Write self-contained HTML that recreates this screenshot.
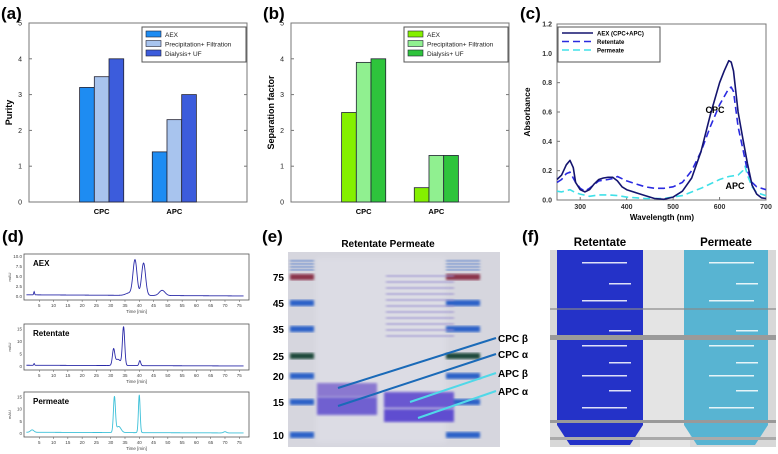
<!DOCTYPE html>
<html><head><meta charset="utf-8"><style>
body{margin:0;background:#fff}
svg{display:block;font-family:"Liberation Sans",sans-serif}
</style></head><body>
<svg id="fig" width="778" height="454" viewBox="0 0 778 454" xmlns="http://www.w3.org/2000/svg">
<defs>
<filter id="blur1"><feGaussianBlur stdDeviation="1.2"/></filter>
<filter id="blur2"><feGaussianBlur stdDeviation="2.5"/></filter>
</defs>
<g id="pa"></g>
<g id="pb"></g>
<g id="pc"></g>
<g id="pd"></g>
<g id="pe"></g>
<g id="pf"></g>
</svg>
<script>
// ---------- data ----------
const barCategories = ["CPC","APC"];
const barSeriesNames = ["AEX","Precipitation+ Filtration","Dialysis+ UF"];
const purityAEX = [3.2,1.4];
const purityPrecip = [3.5,2.3];
const purityDialysis = [4.0,3.0];
const sepAEX = [2.5,0.4];
const sepPrecip = [3.9,1.3];
const sepDialysis = [4.0,1.3];
const barTicks = [0,1,2,3,4,5];

const wlAEX = [250,260,270,278,285,290,300,310,320,330,340,350,360,370,380,390,400,420,440,460,480,500,520,540,560,580,600,610,620,625,630,640,650,660,670,680,690,700];
const absAEX = [0.14,0.17,0.24,0.27,0.22,0.12,0.07,0.055,0.07,0.11,0.14,0.15,0.155,0.155,0.13,0.09,0.07,0.05,0.03,0.01,0.005,0.02,0.06,0.15,0.33,0.58,0.80,0.88,0.95,0.94,0.88,0.60,0.42,0.25,0.10,0.04,0.015,0.01];
const wlRet = [250,260,270,278,290,300,310,320,340,360,375,380,400,420,440,460,480,500,520,540,560,580,600,620,625,630,640,650,660,670,680,700];
const absRet = [0.12,0.14,0.18,0.19,0.12,0.08,0.06,0.08,0.13,0.14,0.15,0.16,0.13,0.11,0.09,0.08,0.08,0.09,0.12,0.20,0.33,0.50,0.65,0.76,0.77,0.74,0.50,0.35,0.20,0.12,0.09,0.07];
const wlPer = [250,260,278,290,300,320,340,360,380,400,440,480,520,560,600,620,640,650,655,660,670,680,700];
const absPer = [0.06,0.055,0.07,0.05,0.04,0.025,0.035,0.035,0.03,0.02,0.01,0.01,0.03,0.08,0.14,0.16,0.17,0.20,0.23,0.17,0.09,0.05,0.03];
const absXTicks = [300,400,500,600,700];
const absYTicks = [0,0.2,0.4,0.6,0.8,1.0,1.2];

// chromatogram peaks: [time, height, width]
const peaksAEX = [[3.2,0.8,0.15],[36.5,0.6,1.2],[38.5,8.8,0.7],[41.5,8.1,0.7],[48,1.3,1.0]];
const peaksRet = [[3.2,0.7,0.15],[31,6.0,0.4],[32.5,2.5,1.0],[34.5,15.3,0.4],[40.2,2.0,0.3]];
const peaksPer = [[2.5,1.0,0.6],[31.3,14.5,0.35],[32.8,2.5,0.8],[40,15.5,0.3],[70,0.5,0.5]];
const timeTicks = [5,10,15,20,25,30,35,40,45,50,55,60,65,70,75];
const aexYTicks = ["0.0","2.5","5.0","7.5","10.0"];
const retYTicks = ["0","5","10","15"];

const gelMarkers = ["75","45","35","25","20","15","10"];
const gelMarkerY = [277,303,329,356,376,402,435];

// ---------- helpers ----------
const NS="http://www.w3.org/2000/svg";
function el(parent,tag,attrs,text){const e=document.createElementNS(NS,tag);for(const k in attrs)e.setAttribute(k,attrs[k]);if(text!==undefined)e.textContent=text;parent.appendChild(e);return e;}

// ---------- bar charts ----------
function barChart(gid,label,x0,x1,yTitle,series,colors){
  const g=document.getElementById(gid);
  const y0=202,yT=23;
  const ys=v=>y0-(v/5)*(y0-yT);
  const t=el(g,"text",{x:x0-28,y:19,"font-size":"17","font-weight":"bold"},label);
  
  
  const box=el(g,"rect",{x:x0,y:yT,width:x1-x0,height:y0-yT,fill:"none",stroke:"#777","stroke-width":"1"});
  
  
  barTicks.forEach(v=>{
    const tl=el(g,"text",{x:x0-7,y:ys(v)+2.5,"font-size":"7","text-anchor":"end","fill":"#222"},String(v));
    
    
    el(g,"line",{x1:x0,x2:x0+3,y1:ys(v),y2:ys(v),stroke:"#777"});
    el(g,"line",{x1:x1,x2:x1-3,y1:ys(v),y2:ys(v),stroke:"#777"});
  });
  const w=x1-x0, bw=14.7;
  barCategories.forEach((c,i)=>{
    const cx=x0+w*(i+1)/3;
    series.forEach((s,j)=>{
      const v=s[i];
      const r=el(g,"rect",{x:cx-1.5*bw+j*bw,y:ys(v),width:bw,height:y0-ys(v),fill:colors[j],stroke:"#223","stroke-width":"0.8"});
      
      
    });
    const cl=el(g,"text",{x:cx,y:214,"font-size":"7.5","font-weight":"bold","text-anchor":"middle"},c);
    
    
  });
  const yt=el(g,"text",{x:0,y:0,"font-size":"9","font-weight":"bold","text-anchor":"middle",transform:`translate(${x0-17},${(y0+yT)/2}) rotate(-90)`},yTitle);
  
  
  const lx=x1-105;
  const lg=el(g,"g",{});
  
  
  el(lg,"rect",{x:lx,y:27,width:104,height:35,fill:"#fff",stroke:"#555"});
  barSeriesNames.forEach((n,j)=>{
    el(lg,"rect",{x:lx+4,y:31+j*9.5,width:15,height:6,fill:colors[j],stroke:"#223","stroke-width":"0.6"});
    const lt=el(lg,"text",{x:lx+23,y:37+j*9.5,"font-size":"6.5",fill:"#222"},n);
    
    
  });
}
barChart("pa","(a)",29,247,"Purity",[purityAEX,purityPrecip,purityDialysis],["#1e8cf2","#a8c4ee","#3c5cdc"]);
barChart("pb","(b)",291,509,"Separation factor",[sepAEX,sepPrecip,sepDialysis],["#84f000","#90f090","#2ec43c"]);

// ---------- absorbance ----------
(function(){
  const g=document.getElementById("pc");
  const x0=557,x1=766,y0=200,yT=24;
  const xs=w=>x0+(w-250)/450*(x1-x0);
  const ys=v=>y0-v/1.2*(y0-yT);
  const t=el(g,"text",{x:520,y:19,"font-size":"17","font-weight":"bold"},"(c)");
  
  
  el(g,"rect",{x:x0,y:yT,width:x1-x0,height:y0-yT,fill:"none",stroke:"#777"});
  absYTicks.forEach(v=>{
    const tl=el(g,"text",{x:x0-5,y:ys(v)+2.5,"font-size":"7","font-weight":"bold","text-anchor":"end",fill:"#333"},v.toFixed(1));
    
    
    el(g,"line",{x1:x0,x2:x0+3,y1:ys(v),y2:ys(v),stroke:"#777"});
  });
  absXTicks.forEach(v=>{
    const tl=el(g,"text",{x:xs(v),y:y0+9,"font-size":"7","font-weight":"bold","text-anchor":"middle",fill:"#333"},String(v));
    
    
    el(g,"line",{x1:xs(v),x2:xs(v),y1:y0,y2:y0-3,stroke:"#777"});
  });
  const xt=el(g,"text",{x:662,y:220,"font-size":"8","font-weight":"bold","text-anchor":"middle"},"Wavelength (nm)");
  
  
  const yt=el(g,"text",{x:0,y:0,"font-size":"8.5","font-weight":"bold","text-anchor":"middle",transform:`translate(530,112) rotate(-90)`},"Absorbance");
  
  
  function line(ws,vs,col,dash,name){
    const d=ws.map((w,i)=>(i?"L":"M")+xs(w).toFixed(1)+","+ys(vs[i]).toFixed(1)).join("");
    const p=el(g,"path",{d:d,fill:"none",stroke:col,"stroke-width":"1.6","stroke-dasharray":dash,"stroke-linejoin":"round"});
    
    
  }
  line(wlPer,absPer,"#40e0e8","7,4","permeate-line");
  line(wlRet,absRet,"#2a2ae0","7,4","retentate-line");
  line(wlAEX,absAEX,"#14146e","none","aex-line");
  const lg=el(g,"g",{});
  
  
  el(lg,"rect",{x:558,y:27,width:102,height:35,fill:"#fff",stroke:"#555"});
  [["AEX (CPC+APC)","#14146e","none"],["Retentate","#2a2ae0","7,4"],["Permeate","#40e0e8","7,4"]].forEach((e,j)=>{
    el(lg,"line",{x1:562,x2:593,y1:33+j*8.5,y2:33+j*8.5,stroke:e[1],"stroke-width":"1.6","stroke-dasharray":e[2]});
    const lt=el(lg,"text",{x:597,y:35.5+j*8.5,"font-size":"6","font-weight":"bold"},e[0]);
    
    
  });
  const a1=el(g,"text",{x:715,y:113,"font-size":"9","font-weight":"bold","text-anchor":"middle"},"CPC");
  
  
  const a2=el(g,"text",{x:735,y:189,"font-size":"9","font-weight":"bold","text-anchor":"middle"},"APC");
  
  
})();

// ---------- chromatograms ----------
(function(){
  const g=document.getElementById("pd");
  const t=el(g,"text",{x:2,y:242,"font-size":"17","font-weight":"bold"},"(d)");
  
  
  const x0=24,x1=249;
  const xs=tm=>25+tm*2.857;
  function chrom(top,bot,peaks,ymax,ticks,col,title,name){
    const sg=el(g,"g",{});
    
    
    el(sg,"rect",{x:x0,y:top,width:x1-x0,height:bot-top,fill:"#fff",stroke:"#555","stroke-width":"0.8"});
    const ys=v=>bot-4-v/ymax*(bot-top-6);
    ticks.forEach((s,i)=>{
      const v=parseFloat(s);
      el(sg,"text",{x:x0-2,y:ys(v)+2,"font-size":"4.5","text-anchor":"end",fill:"#444"},s);
    });
    el(sg,"text",{x:0,y:0,"font-size":"4","text-anchor":"middle",fill:"#444",transform:`translate(${x0-13},${(top+bot)/2}) rotate(-90)`},"mAU");
    timeTicks.forEach(tm=>{
      el(sg,"line",{x1:xs(tm),x2:xs(tm),y1:bot,y2:bot+2,stroke:"#555","stroke-width":"0.5"});
      el(sg,"text",{x:xs(tm),y:bot+7,"font-size":"4.5","text-anchor":"middle",fill:"#444"},String(tm));
    });
    el(sg,"text",{x:(x0+x1)/2,y:bot+13,"font-size":"4.5","text-anchor":"middle",fill:"#444"},"Time [min]");
    let d="";
    for(let tm=0.5;tm<=76.5;tm+=0.1){
      let v=0.3*(1-tm/80);
      peaks.forEach(p=>{v+=p[1]*Math.exp(-Math.pow((tm-p[0])/p[2],2)/2);});
      d+=(d?"L":"M")+xs(tm).toFixed(2)+","+ys(v).toFixed(2);
    }
    const p=el(sg,"path",{d:d,fill:"none",stroke:col,"stroke-width":"0.9"});
    
    
    el(sg,"text",{x:x0+9,y:top+12,"font-size":"8","font-weight":"bold"},title);
  }
  chrom(254,300,peaksAEX,10,aexYTicks,"#2a2aa8","AEX","chromatogram-aex");
  chrom(324,370,peaksRet,16,retYTicks,"#2a2aa8","Retentate","chromatogram-retentate");
  chrom(392,437,peaksPer,16,retYTicks,"#3cc0d8","Permeate","chromatogram-permeate");
})();

// ---------- gel ----------
(function(){
  const g=document.getElementById("pe");
  const t=el(g,"text",{x:262,y:242,"font-size":"17","font-weight":"bold"},"(e)");
  
  
  const h=el(g,"text",{x:388,y:247,"font-size":"10","font-weight":"bold","text-anchor":"middle"},"Retentate  Permeate");
  
  
  el(g,"rect",{x:288,y:252,width:212,height:195,fill:"#d6d6de"});
  el(g,"rect",{x:316,y:258,width:130,height:185,fill:"#dcdce4",filter:"url(#blur2)"});
  gelMarkers.forEach((m,i)=>{
    const y=gelMarkerY[i];
    const lt=el(g,"text",{x:284,y:y+4,"font-size":"10","font-weight":"bold","text-anchor":"end"},m);
    
    
    const c=(m==="75")?"#8a3048":(m==="25")?"#1a4a3a":"#2c60c8";
    [[290,314],[446,480]].forEach(r=>el(g,"rect",{x:r[0],y:y-3,width:r[1]-r[0],height:6,fill:c,filter:"url(#blur1)"}));
  });
  [[290,314],[446,480]].forEach(r=>{for(let y=260;y<272;y+=3)el(g,"rect",{x:r[0],y:y,width:r[1]-r[0],height:1.5,fill:"#5078c8",filter:"url(#blur1)"});});
  for(let y=275;y<340;y+=6)el(g,"rect",{x:386,y:y,width:68,height:2,fill:"#9a90d0",filter:"url(#blur1)",opacity:0.8});
  el(g,"rect",{x:317,y:383,width:60,height:14,fill:"#8a78d0",filter:"url(#blur1)"});
  el(g,"rect",{x:317,y:397,width:60,height:18,fill:"#7060d0",filter:"url(#blur1)"});
  el(g,"rect",{x:384,y:392,width:70,height:16,fill:"#6a58d0",filter:"url(#blur1)"});
  el(g,"rect",{x:384,y:409,width:70,height:13,fill:"#5e4ed0",filter:"url(#blur1)"});
  const arrows=[["CPC β",341,338,388,"#1a6ab8"],["CPC α",357,338,406,"#1a6ab8"],["APC β",376,410,402,"#50d8e8"],["APC α",394,418,418,"#50d8e8"]];
  arrows.forEach(a=>{
    el(g,"line",{x1:496,y1:a[1]-3,x2:a[2],y2:a[3],stroke:a[4],"stroke-width":"2"});
    const lt=el(g,"text",{x:498,y:a[1]+1,"font-size":"10","font-weight":"bold"},a[0]);
    
    
  });
})();

// ---------- photo ----------
(function(){
  const g=document.getElementById("pf");
  const t=el(g,"text",{x:522,y:242,"font-size":"17","font-weight":"bold"},"(f)");
  
  
  const l1=el(g,"text",{x:600,y:246,"font-size":"11.5","font-weight":"bold","text-anchor":"middle"},"Retentate");
  
  
  const l2=el(g,"text",{x:726,y:246,"font-size":"11.5","font-weight":"bold","text-anchor":"middle"},"Permeate");
  
  
  el(g,"rect",{x:550,y:250,width:226,height:197,fill:"#d8d8d8"});
  el(g,"rect",{x:640,y:250,width:50,height:197,fill:"#e4e4e4"});
  el(g,"path",{d:"M557,250 H643 V425 L630,445 H570 L557,425 Z",fill:"#2432c8"});
  el(g,"path",{d:"M684,250 H768 V425 L755,445 H697 L684,425 Z",fill:"#58b4d2"});
  [[557,643],[684,768]].forEach(r=>{
    [262,283,300,330,345,362,375,390,407].forEach((y,i)=>{
      el(g,"rect",{x:i%2?r[0]+52:r[0]+25,y:y,width:i%2?22:45,height:1.5,fill:"#fff",opacity:0.85});
    });
  });
  el(g,"rect",{x:550,y:335,width:226,height:5,fill:"#9a9a9a"});
  el(g,"rect",{x:550,y:308,width:226,height:2,fill:"#888",opacity:0.6});
  el(g,"rect",{x:550,y:420,width:226,height:3,fill:"#999"});
  el(g,"rect",{x:550,y:437,width:226,height:3,fill:"#aaa"});
})();
</script>
</body></html>
